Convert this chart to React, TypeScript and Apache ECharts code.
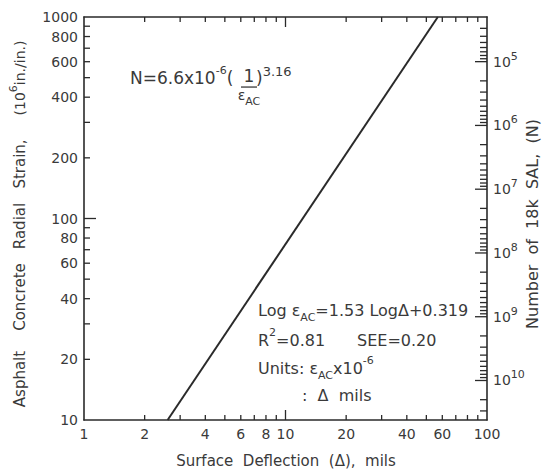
import { useEffect, useRef } from 'react';
import * as echarts from 'echarts';

// Surface deflection (mils), log scale
const deflectionLabels = [1, 2, 4, 6, 8, 10, 20, 40, 60, 80, 100];
const deflectionTicks = [2, 3, 4, 5, 6, 7, 8, 9, 20, 30, 40, 50, 60, 70, 80, 90];
const deflectionDecadeTicks = [10];
// Asphalt concrete radial strain (10^-6 in./in.), log scale
const strainLabels = [10, 20, 40, 60, 80, 100, 200, 400, 600, 800, 1000];
const strainTicks = [20, 30, 40, 50, 60, 70, 80, 90, 200, 300, 400, 500, 600, 700, 800, 900];
const strainDecadeTicks = [100];
// Number of 18k SAL (N), right axis
const repetitionLabels = [1e5, 1e6, 1e7, 1e8, 1e9, 1e10];
const repetitionMultipliers = [2, 3, 4, 5, 6, 7, 8, 9];
const repetitionDecades = [4, 5, 6, 7, 8, 9, 10];
// Regression line end points
const lineDeflection = [2.6, 57];
const lineStrain = [10, 1000];
// N = 6.6x10^-6 (1/eps)^3.16
const fatigueCoef = 6.6e-6;
const fatigueExp = 3.16;

const FONT = '"DejaVu Sans", sans-serif';
const INK = '#2a2a2a';
const TXT = '#3a3a3a';
const lg = (v: number) => Math.log10(v);

const GRID = { left: 84, right: 56, top: 17, bottom: 54 };

export default function App() {
  const ref = useRef<HTMLDivElement>(null);
  useEffect(() => {
    if (!ref.current) return;
    const chart = echarts.init(ref.current, undefined, { renderer: 'svg' });
    const xMin = lg(deflectionLabels[0]);
    const xMax = lg(deflectionLabels[deflectionLabels.length - 1]);
    const yMin = lg(strainLabels[0]);
    const yMax = lg(strainLabels[strainLabels.length - 1]);
    const nAt = (eps: number) => fatigueCoef * Math.pow(1e6 / eps, fatigueExp);
    const nMinLog = lg(nAt(strainLabels[strainLabels.length - 1]));
    const nMaxLog = lg(nAt(strainLabels[0]));
    const nMinor: number[] = [];
    repetitionDecades.forEach((d) =>
      repetitionMultipliers.forEach((m) => {
        const v = lg(m) + d;
        if (v > nMinLog + 0.02 && v < nMaxLog - 0.02) nMinor.push(v);
      })
    );
    const plotW = chart.getWidth() - GRID.left - GRID.right;
    const plotH = chart.getHeight() - GRID.top - GRID.bottom;
    const dxPerPx = (xMax - xMin) / plotW;
    const dyPerPx = (yMax - yMin) / plotH;

    const lineStyle = { color: INK, width: 1.6 };
    const hidden = { show: false };
    const numLabel = (values: number[], margin: number) => ({
      show: true,
      customValues: values.map(lg),
      margin,
      color: TXT,
      fontFamily: FONT,
      fontSize: 14,
      showMinLabel: true,
      showMaxLabel: true,
      hideOverlap: false,
      formatter: (v: number) => String(Math.round(Math.pow(10, v))),
    });
    const axisCommon = {
      type: 'value',
      axisLine: { show: true, onZero: false, lineStyle },
      axisTick: hidden,
      splitLine: hidden,
    };

    // Tick marks as short two-point line series in axis coordinates
    const tickSeries: any[] = [];
    const tick = (a: number[], b: number[], yAxisIndex = 0) =>
      tickSeries.push({
        type: 'line',
        xAxisIndex: 0,
        yAxisIndex,
        data: [a, b],
        symbol: 'none',
        showSymbol: false,
        silent: true,
        clip: false,
        z: 3,
        lineStyle: { color: INK, width: 1.3 },
      });
    const addX = (v: number, len: number) => {
      tick([lg(v), yMin], [lg(v), yMin + len * dyPerPx]);
      tick([lg(v), yMax], [lg(v), yMax - len * dyPerPx]);
    };
    deflectionTicks.forEach((v) => addX(v, 5));
    deflectionDecadeTicks.forEach((v) => addX(v, 10));
    const addY = (v: number, len: number) => tick([xMin, lg(v)], [xMin + len * dxPerPx, lg(v)]);
    strainTicks.forEach((v) => addY(v, 6));
    strainDecadeTicks.forEach((v) => addY(v, 12));
    const addN = (lv: number, len: number) => tick([xMax, lv], [xMax - len * dxPerPx, lv], 1);
    repetitionLabels.forEach((v) => addN(lg(v), 12));
    nMinor.forEach((v) => addN(v, 7));

    const sub = { fontSize: 11, fontFamily: FONT, color: TXT, verticalAlign: 'bottom', lineHeight: 12 };
    const sup = { fontSize: 11, fontFamily: FONT, color: TXT, verticalAlign: 'top', lineHeight: 12 };
    const supBig = { fontSize: 13, fontFamily: FONT, color: TXT, verticalAlign: 'top', lineHeight: 13 };
    const txt = (x: number, y: number, text: string, size: number, extra: any = {}) => ({
      type: 'text',
      x,
      y,
      silent: true,
      rotation: extra.rotation || 0,
      style: {
        text,
        fontFamily: FONT,
        fontSize: size,
        fill: TXT,
        lineHeight: size + 10,
        align: extra.align || 'left',
        verticalAlign: 'middle',
        rich: { sub, sup, supBig },
      },
    });
    const vert = { rotation: Math.PI / 2, align: 'center' };

    chart.setOption({
      animation: false,
      grid: { ...GRID, containLabel: false },
      xAxis: [
        { ...axisCommon, min: xMin, max: xMax, position: 'bottom', axisLabel: numLabel(deflectionLabels, 7) },
        { ...axisCommon, min: xMin, max: xMax, position: 'top', axisLabel: hidden },
      ],
      yAxis: [
        { ...axisCommon, min: yMin, max: yMax, position: 'left', axisLabel: numLabel(strainLabels, 6) },
        {
          ...axisCommon,
          min: nMinLog,
          max: nMaxLog,
          inverse: true,
          position: 'right',
          axisLabel: {
            show: true,
            customValues: repetitionLabels.map(lg),
            margin: 6,
            color: TXT,
            fontFamily: FONT,
            fontSize: 14,
            lineHeight: 22,
            showMinLabel: true,
            showMaxLabel: true,
            formatter: (v: number) => '10{s|' + Math.round(v) + '}',
            rich: { s: { fontSize: 11, fontFamily: FONT, color: TXT, verticalAlign: 'top', lineHeight: 14 } },
          },
        },
      ],
      series: [
        {
          type: 'line',
          xAxisIndex: 0,
          yAxisIndex: 0,
          data: lineDeflection.map((d, i) => [lg(d), lg(lineStrain[i])]),
          showSymbol: false,
          symbol: 'none',
          lineStyle: { color: INK, width: 2 },
          silent: true,
        },
        ...tickSeries,
      ],
      graphic: [
        // left axis title, word by word
        txt(20, 379, 'Asphalt', 15, vert),
        txt(20, 297, 'Concrete', 15, vert),
        txt(20, 226, 'Radial', 15, vert),
        txt(20, 164, 'Strain,', 15, vert),
        txt(20, 78, '(10{sup|6}in./in.)', 14, vert),
        // right axis title
        txt(532, 224, 'Number  of  18k  SAL,  (N)', 16, vert),
        // bottom axis title
        txt(286, 461, 'Surface  Deflection  (Δ),  mils', 15, { align: 'center' }),
        // N equation
        txt(130, 78, 'N=6.6x10{sup|-6}(', 17),
        txt(249, 76, '1', 17, { align: 'center' }),
        { type: 'rect', silent: true, shape: { x: 241, y: 86.4, width: 16, height: 1.3 }, style: { fill: TXT } },
        txt(249, 95, 'ε{sub|AC}', 14, { align: 'center' }),
        txt(256, 78, '){supBig|3.16}', 17),
        // Regression box
        txt(258, 310, 'Log ε{sub|AC}=1.53 LogΔ+0.319', 16),
        txt(258, 340, 'R{sup|2}=0.81', 16),
        txt(357, 340, 'SEE=0.20', 16),
        txt(258, 368, 'Units: ε{sub|AC}x10{sup|-6}', 16),
        txt(302, 395, ':  Δ  mils', 16),
      ],
    });
    return () => chart.dispose();
  }, []);
  return <div ref={ref} style={{ position: 'fixed', left: 0, top: 0, width: 543, height: 474, background: '#fff' }} />;
}
